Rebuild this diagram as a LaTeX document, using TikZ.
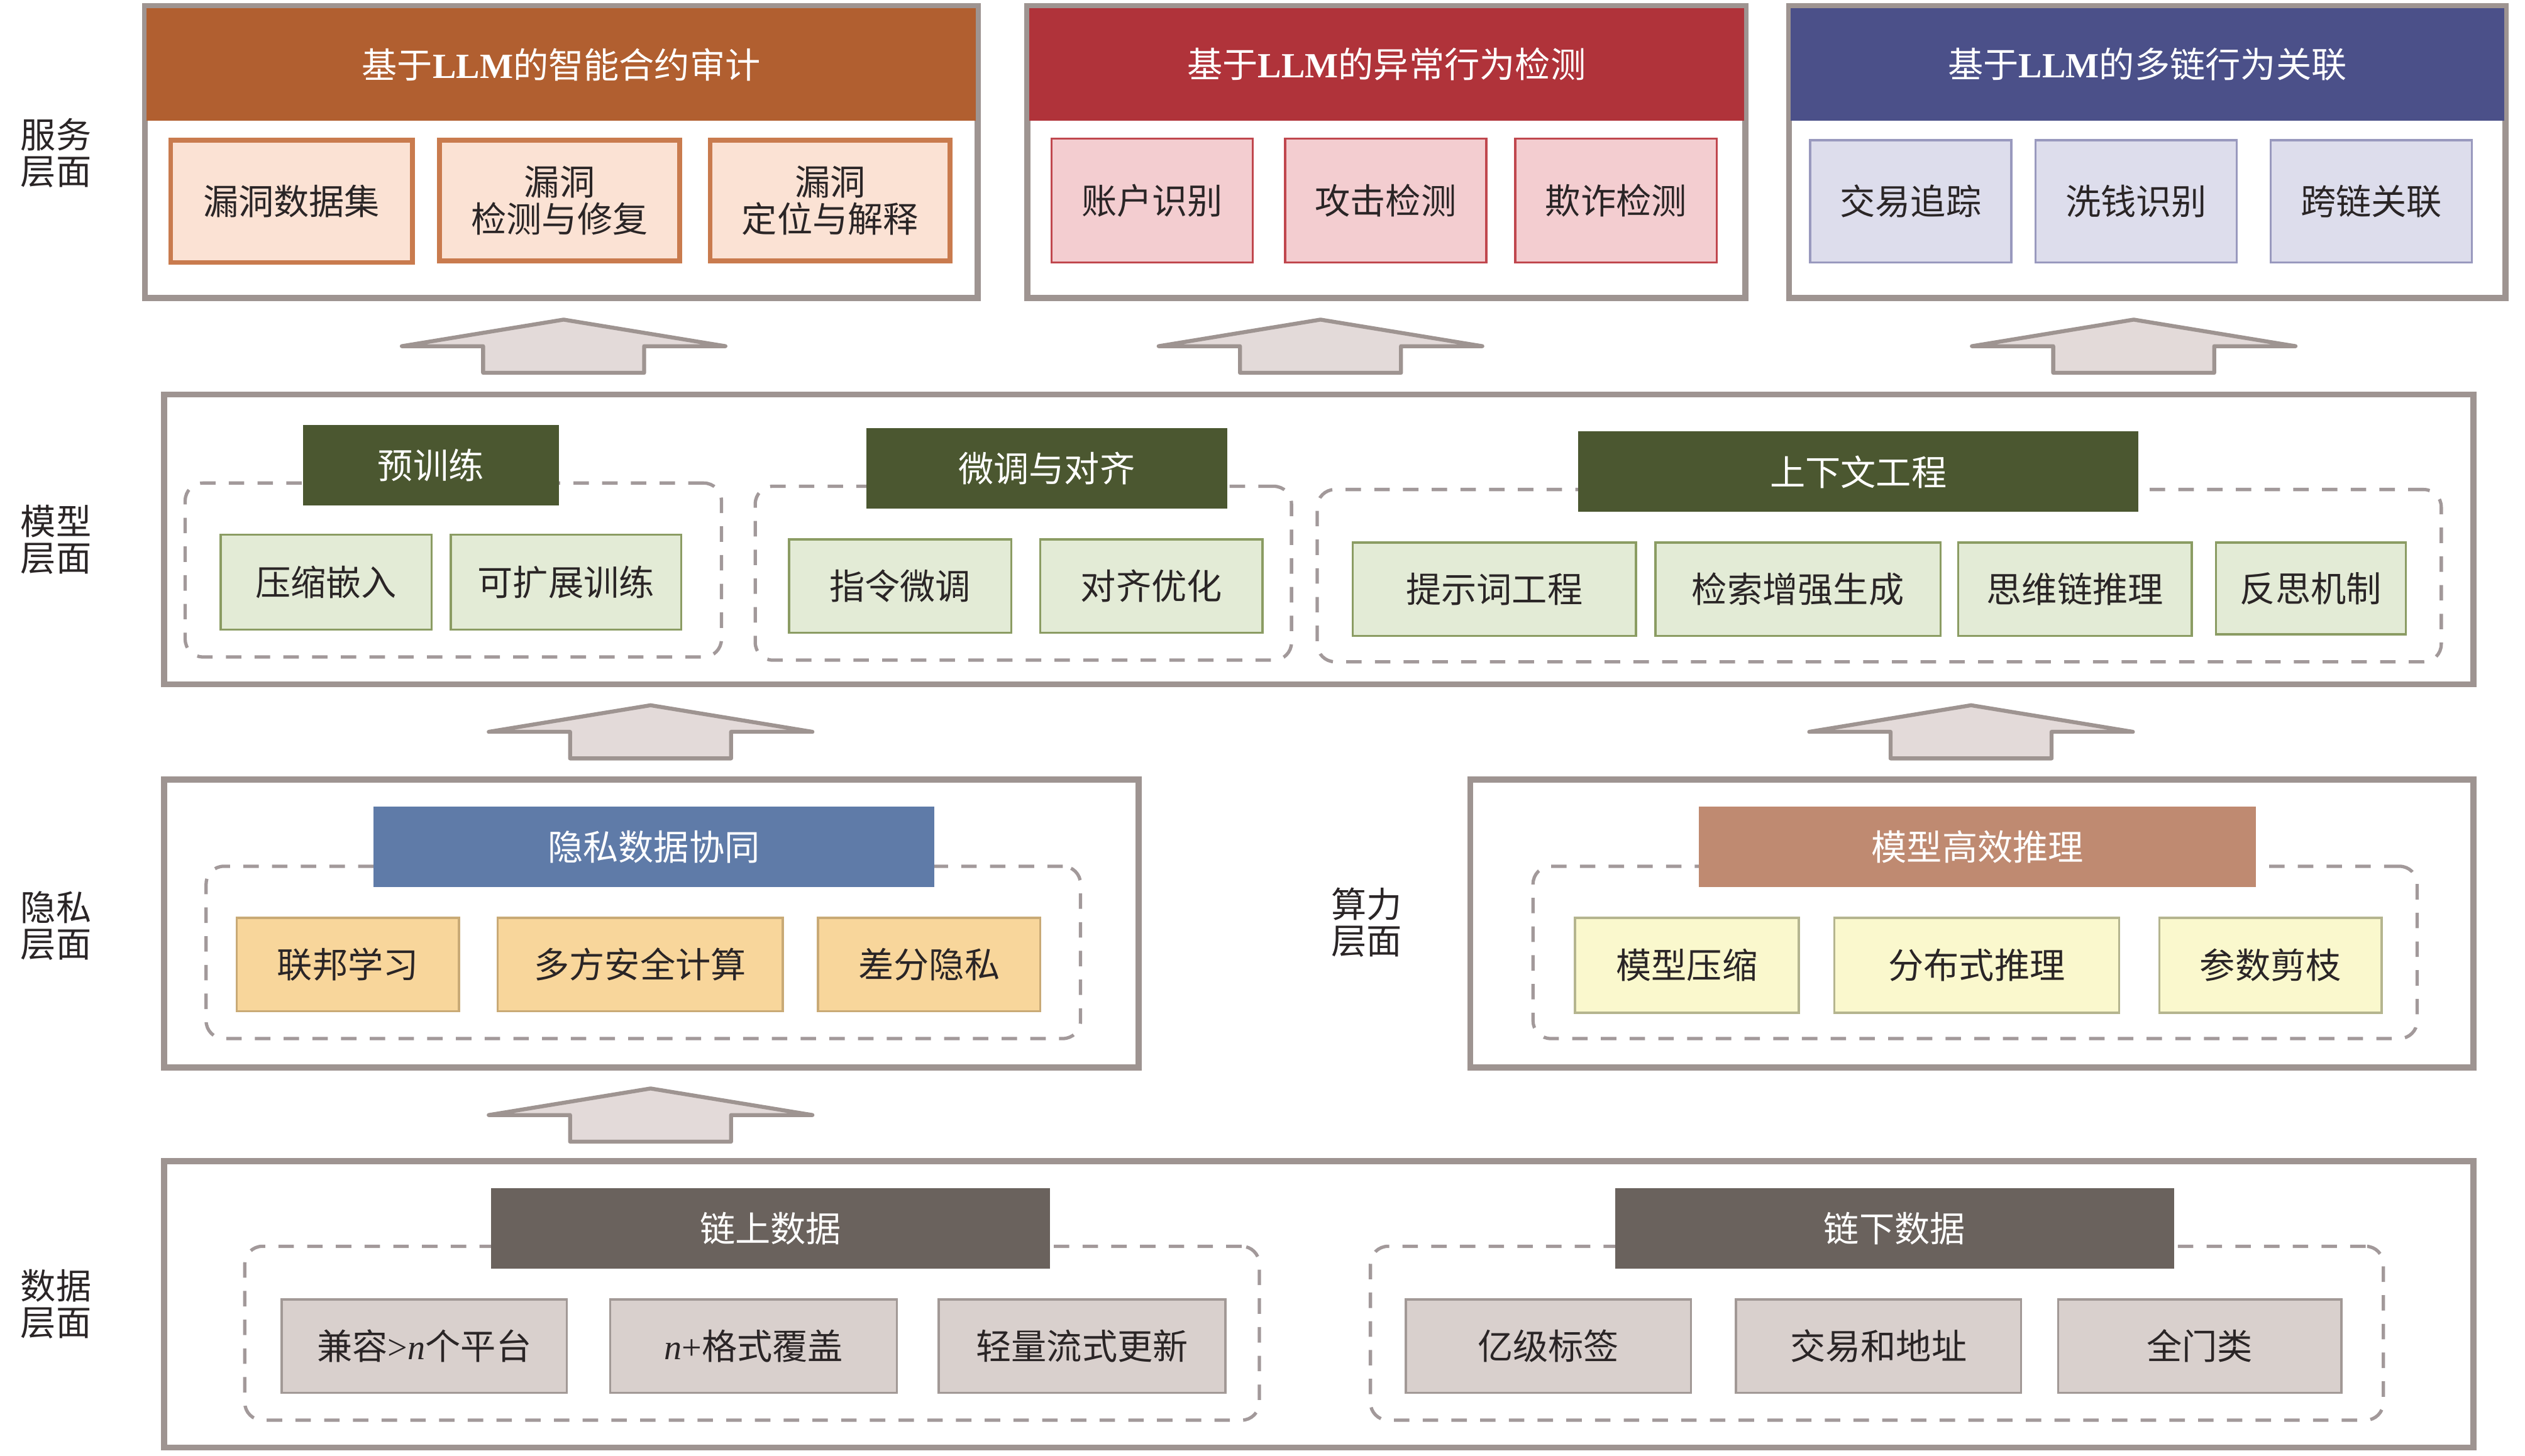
\documentclass[tikz,border=0pt]{standalone}
\usepackage{fontspec}
\setmainfont{Noto Sans CJK SC}
\newfontfamily\libserif{Liberation Serif}
\definecolor{frameg}{HTML}{9E9491}
\definecolor{dashg}{HTML}{A2999A}
\definecolor{arrF}{HTML}{E3DAD9}
\definecolor{txt}{HTML}{2A2526}
\definecolor{orgT}{HTML}{B15F30}
\definecolor{orgF}{HTML}{FBE2D4}
\definecolor{orgB}{HTML}{C97B4E}
\definecolor{redT}{HTML}{B0333A}
\definecolor{redF}{HTML}{F3CDD0}
\definecolor{redB}{HTML}{C0474E}
\definecolor{bluT}{HTML}{4B5089}
\definecolor{bluF}{HTML}{DDDDEC}
\definecolor{bluB}{HTML}{9999BE}
\definecolor{grnT}{HTML}{4B5730}
\definecolor{grnF}{HTML}{E3EBD6}
\definecolor{grnB}{HTML}{8B9C63}
\definecolor{prvT}{HTML}{5F7BA8}
\definecolor{prvF}{HTML}{F8D69B}
\definecolor{prvB}{HTML}{C9AA76}
\definecolor{cmpT}{HTML}{BF8A71}
\definecolor{cmpF}{HTML}{FAF8CD}
\definecolor{cmpB}{HTML}{B5B58F}
\definecolor{datT}{HTML}{6A625D}
\definecolor{datF}{HTML}{D9D0CD}
\definecolor{datB}{HTML}{A29996}
\tikzset{
  frame/.style={draw=frameg, line width=2.8pt, fill=white},
  grp/.style={draw=dashg, line width=1.5pt, dash pattern=on 7pt off 6pt, rounded corners=8pt},
  ttl/.style={fill=#1, text=white},
  sub/.style 2 args={fill=#1, draw=#2, line width=1pt},
  ssub/.style 2 args={fill=#1, draw=#2, line width=2.2pt},
  lbl/.style={anchor=west, font=\fontsize{16}{16.5}\selectfont},
  blockarrow/.style={draw=frameg, fill=arrF, line width=1.8pt, line join=round, line cap=round}
}
\newcommand\mybox[7]{\node[inner sep=0pt, outer sep=0pt, #6,
  minimum width={(#4-#2)*0.025612cm}, minimum height={(#5-#3)*0.025612cm}]
  (#1) at ({(#2+#4)/2},{(#3+#5)/2}) {#7};}
\newcommand\uparr[2]{\draw[blockarrow] (#1,#2) -- (#1+100.5,#2+16.5) -- (#1+50,#2+16.5) -- (#1+50,#2+33)
  -- (#1-50,#2+33) -- (#1-50,#2+16.5) -- (#1-100.5,#2+16.5) -- cycle;}
\newcommand\nit{{\libserif\itshape n}}
\newcommand\LLMtxt{{\libserif\bfseries LLM}}
\begin{document}
\begin{tikzpicture}[x=0.025612cm, y=-0.025612cm,
  every node/.style={font=\fontsize{16}{17}\selectfont, text=txt, align=center}]
\useasboundingbox (0,0) rectangle (1568,904);

% side labels
\node[lbl] (l1) at (8,95) {服务\\层面};
\node[lbl] (l2) at (8,335) {模型\\层面};
\node[lbl] (l3) at (8,575) {隐私\\层面};
\node[lbl] (l4) at (822,573) {算力\\层面};
\node[lbl] (l5) at (8,810) {数据\\层面};

% ===== service layer =====
\mybox{s1}{90}{4}{607}{185}{frame}{}
\mybox{s1t}{91}{5}{606}{75}{ttl=orgT}{基于\LLMtxt 的智能合约审计}
\mybox{s11}{106}{87}{256}{163}{ssub={orgF}{orgB}}{漏洞数据集}
\mybox{s12}{273}{87}{422}{162}{ssub={orgF}{orgB}}{漏洞\\检测与修复}
\mybox{s13}{441}{87}{590}{162}{ssub={orgF}{orgB}}{漏洞\\定位与解释}

\mybox{s2}{638}{4}{1084}{185}{frame}{}
\mybox{s2t}{639}{5}{1083}{75}{ttl=redT}{基于\LLMtxt 的异常行为检测}
\mybox{s21}{653}{86}{778}{163}{sub={redF}{redB}}{账户识别}
\mybox{s22}{798}{86}{923}{163}{sub={redF}{redB}}{攻击检测}
\mybox{s23}{941}{86}{1066}{163}{sub={redF}{redB}}{欺诈检测}

\mybox{s3}{1111}{4}{1556}{185}{frame}{}
\mybox{s3t}{1112}{5}{1555}{75}{ttl=bluT}{基于\LLMtxt 的多链行为关联}
\mybox{s31}{1124}{87}{1249}{163}{sub={bluF}{bluB}}{交易追踪}
\mybox{s32}{1264}{87}{1389}{163}{sub={bluF}{bluB}}{洗钱识别}
\mybox{s33}{1410}{87}{1535}{163}{sub={bluF}{bluB}}{跨链关联}

% arrows row 1
\uparr{350}{198.5}
\uparr{820}{198.5}
\uparr{1325}{198.5}

% ===== model layer =====
\mybox{m}{102}{245}{1536}{425}{frame}{}
\mybox{g1}{115}{300}{448}{408}{grp}{}
\mybox{g2}{469}{302}{802}{410}{grp}{}
\mybox{g3}{818}{304}{1516}{411}{grp}{}
\mybox{g1t}{188}{264}{347}{314}{ttl=grnT}{预训练}
\mybox{g2t}{538}{266}{762}{316}{ttl=grnT}{微调与对齐}
\mybox{g3t}{980}{268}{1328}{318}{ttl=grnT}{上下文工程}
\mybox{g11}{137}{332}{268}{391}{sub={grnF}{grnB}}{压缩嵌入}
\mybox{g12}{280}{332}{423}{391}{sub={grnF}{grnB}}{可扩展训练}
\mybox{g21}{490}{335}{628}{393}{sub={grnF}{grnB}}{指令微调}
\mybox{g22}{646}{335}{784}{393}{sub={grnF}{grnB}}{对齐优化}
\mybox{g31}{840}{337}{1016}{395}{sub={grnF}{grnB}}{提示词工程}
\mybox{g32}{1028}{337}{1205}{395}{sub={grnF}{grnB}}{检索增强生成}
\mybox{g33}{1216}{337}{1361}{395}{sub={grnF}{grnB}}{思维链推理}
\mybox{g34}{1376}{337}{1494}{394}{sub={grnF}{grnB}}{反思机制}

% arrows row 2
\uparr{404}{438}
\uparr{1224}{438}

% ===== privacy layer =====
\mybox{p}{102}{484}{707}{663}{frame}{}
\mybox{pg}{128}{538}{671}{645}{grp}{}
\mybox{pt}{232}{501}{580}{551}{ttl=prvT}{隐私数据协同}
\mybox{p1}{147}{570}{285}{628}{sub={prvF}{prvB}}{联邦学习}
\mybox{p2}{309}{570}{486}{628}{sub={prvF}{prvB}}{多方安全计算}
\mybox{p3}{508}{570}{646}{628}{sub={prvF}{prvB}}{差分隐私}

% ===== compute layer =====
\mybox{c}{913}{484}{1536}{663}{frame}{}
\mybox{cg}{952}{538}{1501}{645}{grp}{}
\mybox{ct}{1055}{501}{1401}{551}{ttl=cmpT}{模型高效推理}
\mybox{c1}{978}{570}{1117}{629}{sub={cmpF}{cmpB}}{模型压缩}
\mybox{c2}{1139}{570}{1316}{629}{sub={cmpF}{cmpB}}{分布式推理}
\mybox{c3}{1341}{570}{1479}{629}{sub={cmpF}{cmpB}}{参数剪枝}

% arrow row 3
\uparr{404}{676}

% ===== data layer =====
\mybox{d}{102}{721}{1536}{899}{frame}{}
\mybox{dg1}{152}{774}{782}{882}{grp}{}
\mybox{dg2}{851}{774}{1480}{882}{grp}{}
\mybox{dt1}{305}{738}{652}{788}{ttl=datT}{链上数据}
\mybox{dt2}{1003}{738}{1350}{788}{ttl=datT}{链下数据}
\mybox{d11}{175}{807}{352}{865}{sub={datF}{datB}}{兼容{\libserif >}\nit 个平台}
\mybox{d12}{379}{807}{557}{865}{sub={datF}{datB}}{\nit{\libserif +}格式覆盖}
\mybox{d13}{583}{807}{761}{865}{sub={datF}{datB}}{轻量流式更新}
\mybox{d21}{873}{807}{1050}{865}{sub={datF}{datB}}{亿级标签}
\mybox{d22}{1078}{807}{1255}{865}{sub={datF}{datB}}{交易和地址}
\mybox{d23}{1278}{807}{1454}{865}{sub={datF}{datB}}{全门类}
\end{tikzpicture}
\end{document}
